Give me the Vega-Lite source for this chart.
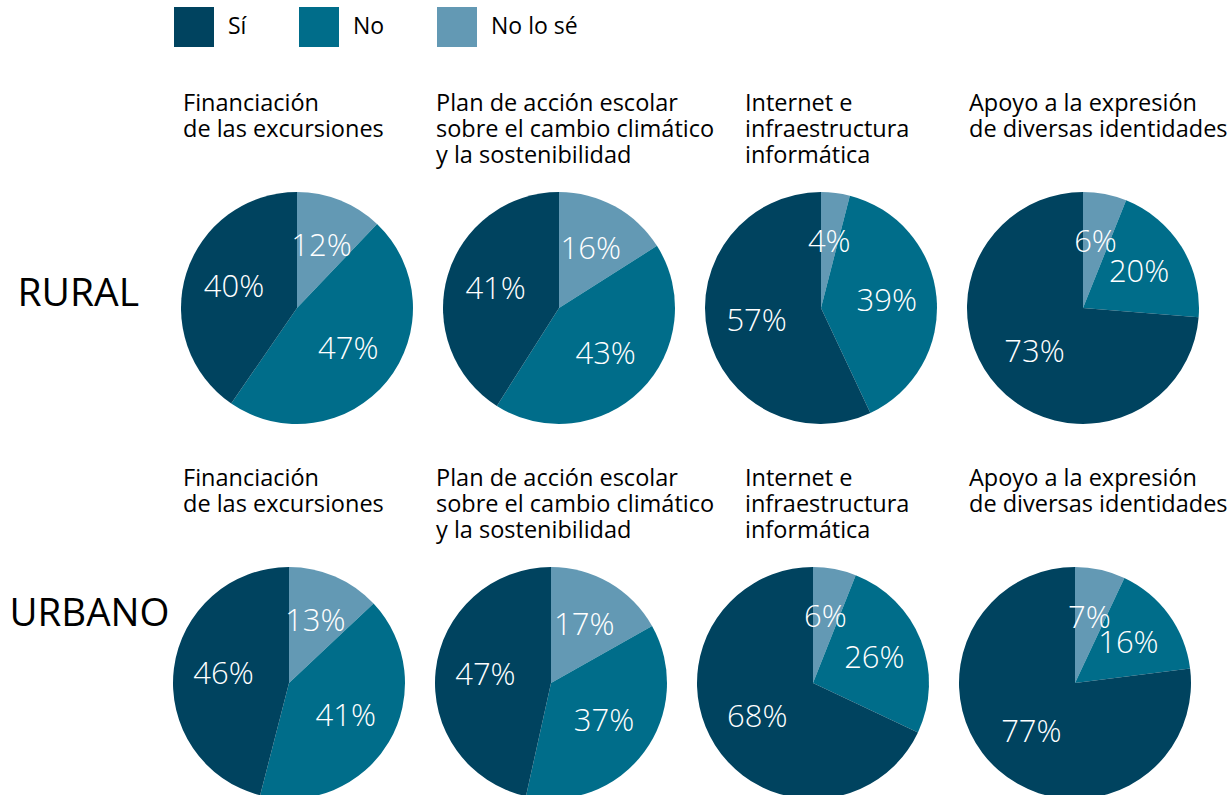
{
  "$schema": "https://vega.github.io/schema/vega-lite/v6.json",
  "padding": {"left": 0, "top": 7, "right": 0, "bottom": 0},
  "background": "white",
  "spacing": 42,
  "datasets": {
    "pies": [
      {"area": "RURAL", "tema": "Financiación", "respuesta": "No lo sé", "orden": 1, "valor": 0.12},
      {"area": "RURAL", "tema": "Financiación", "respuesta": "No", "orden": 2, "valor": 0.47},
      {"area": "RURAL", "tema": "Financiación", "respuesta": "Sí", "orden": 3, "valor": 0.40},
      {"area": "RURAL", "tema": "Plan", "respuesta": "No lo sé", "orden": 1, "valor": 0.16},
      {"area": "RURAL", "tema": "Plan", "respuesta": "No", "orden": 2, "valor": 0.43},
      {"area": "RURAL", "tema": "Plan", "respuesta": "Sí", "orden": 3, "valor": 0.41},
      {"area": "RURAL", "tema": "Internet", "respuesta": "No lo sé", "orden": 1, "valor": 0.04},
      {"area": "RURAL", "tema": "Internet", "respuesta": "No", "orden": 2, "valor": 0.39},
      {"area": "RURAL", "tema": "Internet", "respuesta": "Sí", "orden": 3, "valor": 0.57},
      {"area": "RURAL", "tema": "Apoyo", "respuesta": "No lo sé", "orden": 1, "valor": 0.06},
      {"area": "RURAL", "tema": "Apoyo", "respuesta": "No", "orden": 2, "valor": 0.20},
      {"area": "RURAL", "tema": "Apoyo", "respuesta": "Sí", "orden": 3, "valor": 0.73},
      {"area": "URBANO", "tema": "Financiación", "respuesta": "No lo sé", "orden": 1, "valor": 0.13},
      {"area": "URBANO", "tema": "Financiación", "respuesta": "No", "orden": 2, "valor": 0.41},
      {"area": "URBANO", "tema": "Financiación", "respuesta": "Sí", "orden": 3, "valor": 0.46},
      {"area": "URBANO", "tema": "Plan", "respuesta": "No lo sé", "orden": 1, "valor": 0.17},
      {"area": "URBANO", "tema": "Plan", "respuesta": "No", "orden": 2, "valor": 0.37},
      {"area": "URBANO", "tema": "Plan", "respuesta": "Sí", "orden": 3, "valor": 0.47},
      {"area": "URBANO", "tema": "Internet", "respuesta": "No lo sé", "orden": 1, "valor": 0.06},
      {"area": "URBANO", "tema": "Internet", "respuesta": "No", "orden": 2, "valor": 0.26},
      {"area": "URBANO", "tema": "Internet", "respuesta": "Sí", "orden": 3, "valor": 0.68},
      {"area": "URBANO", "tema": "Apoyo", "respuesta": "No lo sé", "orden": 1, "valor": 0.07},
      {"area": "URBANO", "tema": "Apoyo", "respuesta": "No", "orden": 2, "valor": 0.16},
      {"area": "URBANO", "tema": "Apoyo", "respuesta": "Sí", "orden": 3, "valor": 0.77}
    ]
  },
  "vconcat": [
    {
      "bounds": "flush",
      "spacing": 30,
      "hconcat": [
        {
          "width": 151, "height": 232,
          "data": {"values": [{"fila": "RURAL"}]},
          "mark": {"type": "text", "fontSize": 39, "align": "left", "baseline": "alphabetic", "dx": -58, "dy": -2, "color": "black"},
          "encoding": {"text": {"field": "fila", "type": "nominal"}}
        },
        {
          "width": 232, "height": 232,
          "title": {"text": ["Financiación", "de las excursiones", ""], "dx": 2},
          "data": {"name": "pies"},
          "transform": [{"filter": "datum.area === 'RURAL' && datum.tema === 'Financiación'"}],
          "encoding": {
            "theta": {"field": "valor", "type": "quantitative", "stack": true},
            "order": {"field": "orden", "type": "quantitative"}
          },
          "layer": [
            {"mark": {"type": "arc"}, "encoding": {"color": {"field": "respuesta", "type": "nominal", "scale": {"domain": ["Sí", "No", "No lo sé"], "range": ["#00435f", "#006d8a", "#6399b4"]}}}},
            {"mark": {"type": "text", "fontSize": 31, "fontWeight": 300, "color": "white", "radius": 66},
             "encoding": {"detail": {"field": "respuesta", "type": "nominal"}, "text": {"field": "valor", "type": "quantitative", "format": ".0%"}}}
          ]
        },
        {
          "width": 232, "height": 232,
          "title": {"text": ["Plan de acción escolar", "sobre el cambio climático", "y la sostenibilidad"], "dx": -7},
          "data": {"name": "pies"},
          "transform": [{"filter": "datum.area === 'RURAL' && datum.tema === 'Plan'"}],
          "encoding": {
            "theta": {"field": "valor", "type": "quantitative", "stack": true},
            "order": {"field": "orden", "type": "quantitative"}
          },
          "layer": [
            {"mark": {"type": "arc"}, "encoding": {"color": {"field": "respuesta", "type": "nominal", "scale": {"domain": ["Sí", "No", "No lo sé"], "range": ["#00435f", "#006d8a", "#6399b4"]}}}},
            {"mark": {"type": "text", "fontSize": 31, "fontWeight": 300, "color": "white", "radius": 66},
             "encoding": {"detail": {"field": "respuesta", "type": "nominal"}, "text": {"field": "valor", "type": "quantitative", "format": ".0%"}}}
          ]
        },
        {
          "width": 232, "height": 232,
          "title": {"text": ["Internet e", "infraestructura", "informática"], "dx": 40},
          "data": {"name": "pies"},
          "transform": [{"filter": "datum.area === 'RURAL' && datum.tema === 'Internet'"}],
          "encoding": {
            "theta": {"field": "valor", "type": "quantitative", "stack": true},
            "order": {"field": "orden", "type": "quantitative"}
          },
          "layer": [
            {"mark": {"type": "arc"}, "encoding": {"color": {"field": "respuesta", "type": "nominal", "scale": {"domain": ["Sí", "No", "No lo sé"], "range": ["#00435f", "#006d8a", "#6399b4"]}}}},
            {"mark": {"type": "text", "fontSize": 31, "fontWeight": 300, "color": "white", "radius": 66},
             "encoding": {"detail": {"field": "respuesta", "type": "nominal"}, "text": {"field": "valor", "type": "quantitative", "format": ".0%"}}}
          ]
        },
        {
          "width": 232, "height": 232,
          "title": {"text": ["Apoyo a la expresión", "de diversas identidades", ""], "dx": 2},
          "data": {"name": "pies"},
          "transform": [{"filter": "datum.area === 'RURAL' && datum.tema === 'Apoyo'"}],
          "encoding": {
            "theta": {"field": "valor", "type": "quantitative", "stack": true},
            "order": {"field": "orden", "type": "quantitative"}
          },
          "layer": [
            {"mark": {"type": "arc"}, "encoding": {"color": {"field": "respuesta", "type": "nominal", "scale": {"domain": ["Sí", "No", "No lo sé"], "range": ["#00435f", "#006d8a", "#6399b4"]}}}},
            {"mark": {"type": "text", "fontSize": 31, "fontWeight": 300, "color": "white", "radius": 66},
             "encoding": {"detail": {"field": "respuesta", "type": "nominal"}, "text": {"field": "valor", "type": "quantitative", "format": ".0%"}}}
          ]
        }
      ]
    },
    {
      "bounds": "flush",
      "spacing": 30,
      "hconcat": [
        {
          "width": 143, "height": 232,
          "data": {"values": [{"fila": "URBANO"}]},
          "mark": {"type": "text", "fontSize": 38.5, "align": "left", "baseline": "alphabetic", "dx": -62, "dy": -57, "color": "black"},
          "encoding": {"text": {"field": "fila", "type": "nominal"}}
        },
        {
          "width": 232, "height": 232,
          "title": {"text": ["Financiación", "de las excursiones", ""], "dx": 10},
          "data": {"name": "pies"},
          "transform": [{"filter": "datum.area === 'URBANO' && datum.tema === 'Financiación'"}],
          "encoding": {
            "theta": {"field": "valor", "type": "quantitative", "stack": true},
            "order": {"field": "orden", "type": "quantitative"}
          },
          "layer": [
            {"mark": {"type": "arc"}, "encoding": {"color": {"field": "respuesta", "type": "nominal", "scale": {"domain": ["Sí", "No", "No lo sé"], "range": ["#00435f", "#006d8a", "#6399b4"]}}}},
            {"mark": {"type": "text", "fontSize": 31, "fontWeight": 300, "color": "white", "radius": 66},
             "encoding": {"detail": {"field": "respuesta", "type": "nominal"}, "text": {"field": "valor", "type": "quantitative", "format": ".0%"}}}
          ]
        },
        {
          "width": 232, "height": 232,
          "title": {"text": ["Plan de acción escolar", "sobre el cambio climático", "y la sostenibilidad"], "dx": 1},
          "data": {"name": "pies"},
          "transform": [{"filter": "datum.area === 'URBANO' && datum.tema === 'Plan'"}],
          "encoding": {
            "theta": {"field": "valor", "type": "quantitative", "stack": true},
            "order": {"field": "orden", "type": "quantitative"}
          },
          "layer": [
            {"mark": {"type": "arc"}, "encoding": {"color": {"field": "respuesta", "type": "nominal", "scale": {"domain": ["Sí", "No", "No lo sé"], "range": ["#00435f", "#006d8a", "#6399b4"]}}}},
            {"mark": {"type": "text", "fontSize": 31, "fontWeight": 300, "color": "white", "radius": 66},
             "encoding": {"detail": {"field": "respuesta", "type": "nominal"}, "text": {"field": "valor", "type": "quantitative", "format": ".0%"}}}
          ]
        },
        {
          "width": 232, "height": 232,
          "title": {"text": ["Internet e", "infraestructura", "informática"], "dx": 48},
          "data": {"name": "pies"},
          "transform": [{"filter": "datum.area === 'URBANO' && datum.tema === 'Internet'"}],
          "encoding": {
            "theta": {"field": "valor", "type": "quantitative", "stack": true},
            "order": {"field": "orden", "type": "quantitative"}
          },
          "layer": [
            {"mark": {"type": "arc"}, "encoding": {"color": {"field": "respuesta", "type": "nominal", "scale": {"domain": ["Sí", "No", "No lo sé"], "range": ["#00435f", "#006d8a", "#6399b4"]}}}},
            {"mark": {"type": "text", "fontSize": 31, "fontWeight": 300, "color": "white", "radius": 66},
             "encoding": {"detail": {"field": "respuesta", "type": "nominal"}, "text": {"field": "valor", "type": "quantitative", "format": ".0%"}}}
          ]
        },
        {
          "width": 232, "height": 232,
          "title": {"text": ["Apoyo a la expresión", "de diversas identidades", ""], "dx": 10},
          "data": {"name": "pies"},
          "transform": [{"filter": "datum.area === 'URBANO' && datum.tema === 'Apoyo'"}],
          "encoding": {
            "theta": {"field": "valor", "type": "quantitative", "stack": true},
            "order": {"field": "orden", "type": "quantitative"}
          },
          "layer": [
            {"mark": {"type": "arc"}, "encoding": {"color": {"field": "respuesta", "type": "nominal", "scale": {"domain": ["Sí", "No", "No lo sé"], "range": ["#00435f", "#006d8a", "#6399b4"]}}}},
            {"mark": {"type": "text", "fontSize": 31, "fontWeight": 300, "color": "white", "radius": 66},
             "encoding": {"detail": {"field": "respuesta", "type": "nominal"}, "text": {"field": "valor", "type": "quantitative", "format": ".0%"}}}
          ]
        }
      ]
    }
  ],
  "config": {
    "font": "Open Sans",
    "view": {"stroke": null},
    "title": {"anchor": "start", "fontSize": 23.5, "fontWeight": "normal", "font": "Open Sans", "lineHeight": 26, "baseline": "bottom", "offset": 25, "color": "black"},
    "legend": {"orient": "none", "legendX": 174, "legendY": -185, "direction": "horizontal", "title": null, "symbolType": "square", "symbolSize": 1600, "symbolStrokeWidth": 0, "symbolOpacity": 1, "labelFontSize": 23, "labelFont": "Open Sans", "labelColor": "black", "labelOffset": 14, "columnPadding": 52, "padding": 0, "labelLimit": 400}
  }
}
